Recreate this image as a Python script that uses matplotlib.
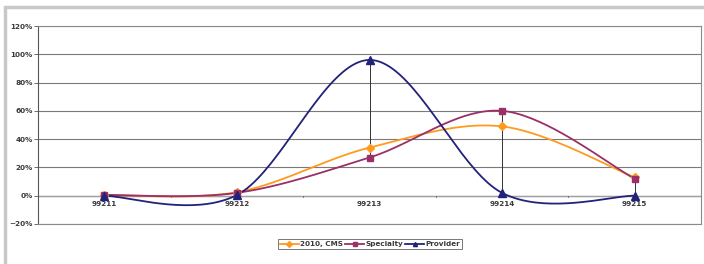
import numpy as np
import matplotlib
matplotlib.use("Agg")
import matplotlib.pyplot as plt
from matplotlib.patches import Rectangle
from matplotlib.ticker import PercentFormatter

codes = ["99211", "99212", "99213", "99214", "99215"]
cms_2010 = [0.5, 2.5, 34, 49, 13]
specialty = [0.5, 2, 27, 60, 12]
provider = [0, 0.5, 96, 2, 0]
y_ticks = [-20, 0, 20, 40, 60, 80, 100, 120]


def smooth(xs, ys, n=40):
    # Excel-style smoothed line (Catmull-Rom through the points)
    xs = np.asarray(xs, float)
    ys = np.asarray(ys, float)
    px = np.concatenate([[xs[0]], xs, [xs[-1]]])
    py = np.concatenate([[ys[0]], ys, [ys[-1]]])
    out_x, out_y = [], []
    t = np.linspace(0, 1, n)
    for i in range(1, len(px) - 2):
        p0, p1, p2, p3 = (np.array([px[j], py[j]]) for j in range(i - 1, i + 3))
        c1 = p1 + (p2 - p0) / 6
        c2 = p2 - (p3 - p1) / 6
        b = ((1 - t) ** 3)[:, None] * p1 + (3 * (1 - t) ** 2 * t)[:, None] * c1 \
            + (3 * (1 - t) * t ** 2)[:, None] * c2 + (t ** 3)[:, None] * p2
        out_x.extend(b[:, 0])
        out_y.extend(b[:, 1])
    return out_x, out_y


plt.rcParams["font.family"] = ["DejaVu Sans"]
fig = plt.figure(figsize=(7.04, 2.64), dpi=100)
fig.patches.append(Rectangle((5 / 704, -0.05), 1.0, 1 - 7 / 264 + 0.05, transform=fig.transFigure,
                             fill=False, edgecolor="#c8c8c8", linewidth=2.5))
ax = fig.add_axes([38 / 704, 1 - 224 / 264, 663 / 704, 198 / 264])

x = np.arange(len(codes))
series = [
    ("2010, CMS", cms_2010, "#FF9A1E", "D", 4),
    ("Specialty", specialty, "#9B2F66", "s", 5),
    ("Provider", provider, "#22227A", "^", 6),
]
txt = dict(fontsize=5.2, color="#3a3a3a", fontweight="bold")

# high-low lines
for i in x:
    vals = [s[1][i] for s in series]
    ax.plot([i, i], [min(vals), max(vals)], color="#333333", lw=0.7, zorder=2)

for label, vals, color, marker, ms in series:
    sx, sy = smooth(x, vals)
    ax.plot(sx, sy, color=color, lw=1.3, zorder=3)
    ax.plot(x, vals, linestyle="none", marker=marker, markersize=ms, color=color, zorder=4)
    ax.plot([], [], color=color, lw=1.3, marker=marker, markersize=3, label=label)

ax.set_xlim(-0.5, len(codes) - 0.5)
ax.set_ylim(-20, 120)
ax.set_yticks(y_ticks)
ax.yaxis.set_major_formatter(PercentFormatter(decimals=0))
ax.grid(axis="y", color="#7a7a7a", lw=0.8)
ax.set_axisbelow(True)
ax.axhline(0, color="#a0a0a0", lw=1.0, zorder=1)
ax.set_xticks([])
for i, c in enumerate(codes):
    ax.text(i, -4, c, ha="center", va="top", **txt)
for b in np.arange(0.5, len(codes) - 0.5):
    ax.plot([b, b], [0, -1.2], color="#666666", lw=0.6, zorder=1)
ax.tick_params(axis="y", length=3, width=0.6, color="#555555", pad=1)
for lbl in ax.get_yticklabels():
    lbl.set(**txt)
for side in ["top", "right", "bottom"]:
    ax.spines[side].set_color("#8a8a8a")
    ax.spines[side].set_linewidth(0.8)
ax.spines["left"].set_color("#555555")
ax.spines["left"].set_linewidth(0.8)

leg = fig.legend(loc="center", bbox_to_anchor=(370 / 704, 1 - 244 / 264), ncol=3,
                 prop=dict(size=5.2, weight="bold"),
                 frameon=True, fancybox=False, handlelength=2.6, handletextpad=0.2, columnspacing=0.3,
                 borderpad=0.3)
for t in leg.get_texts():
    t.set_color("#3a3a3a")
leg.get_frame().set_edgecolor("#555555")
leg.get_frame().set_linewidth(0.7)

fig.savefig("out.png", dpi=100)
